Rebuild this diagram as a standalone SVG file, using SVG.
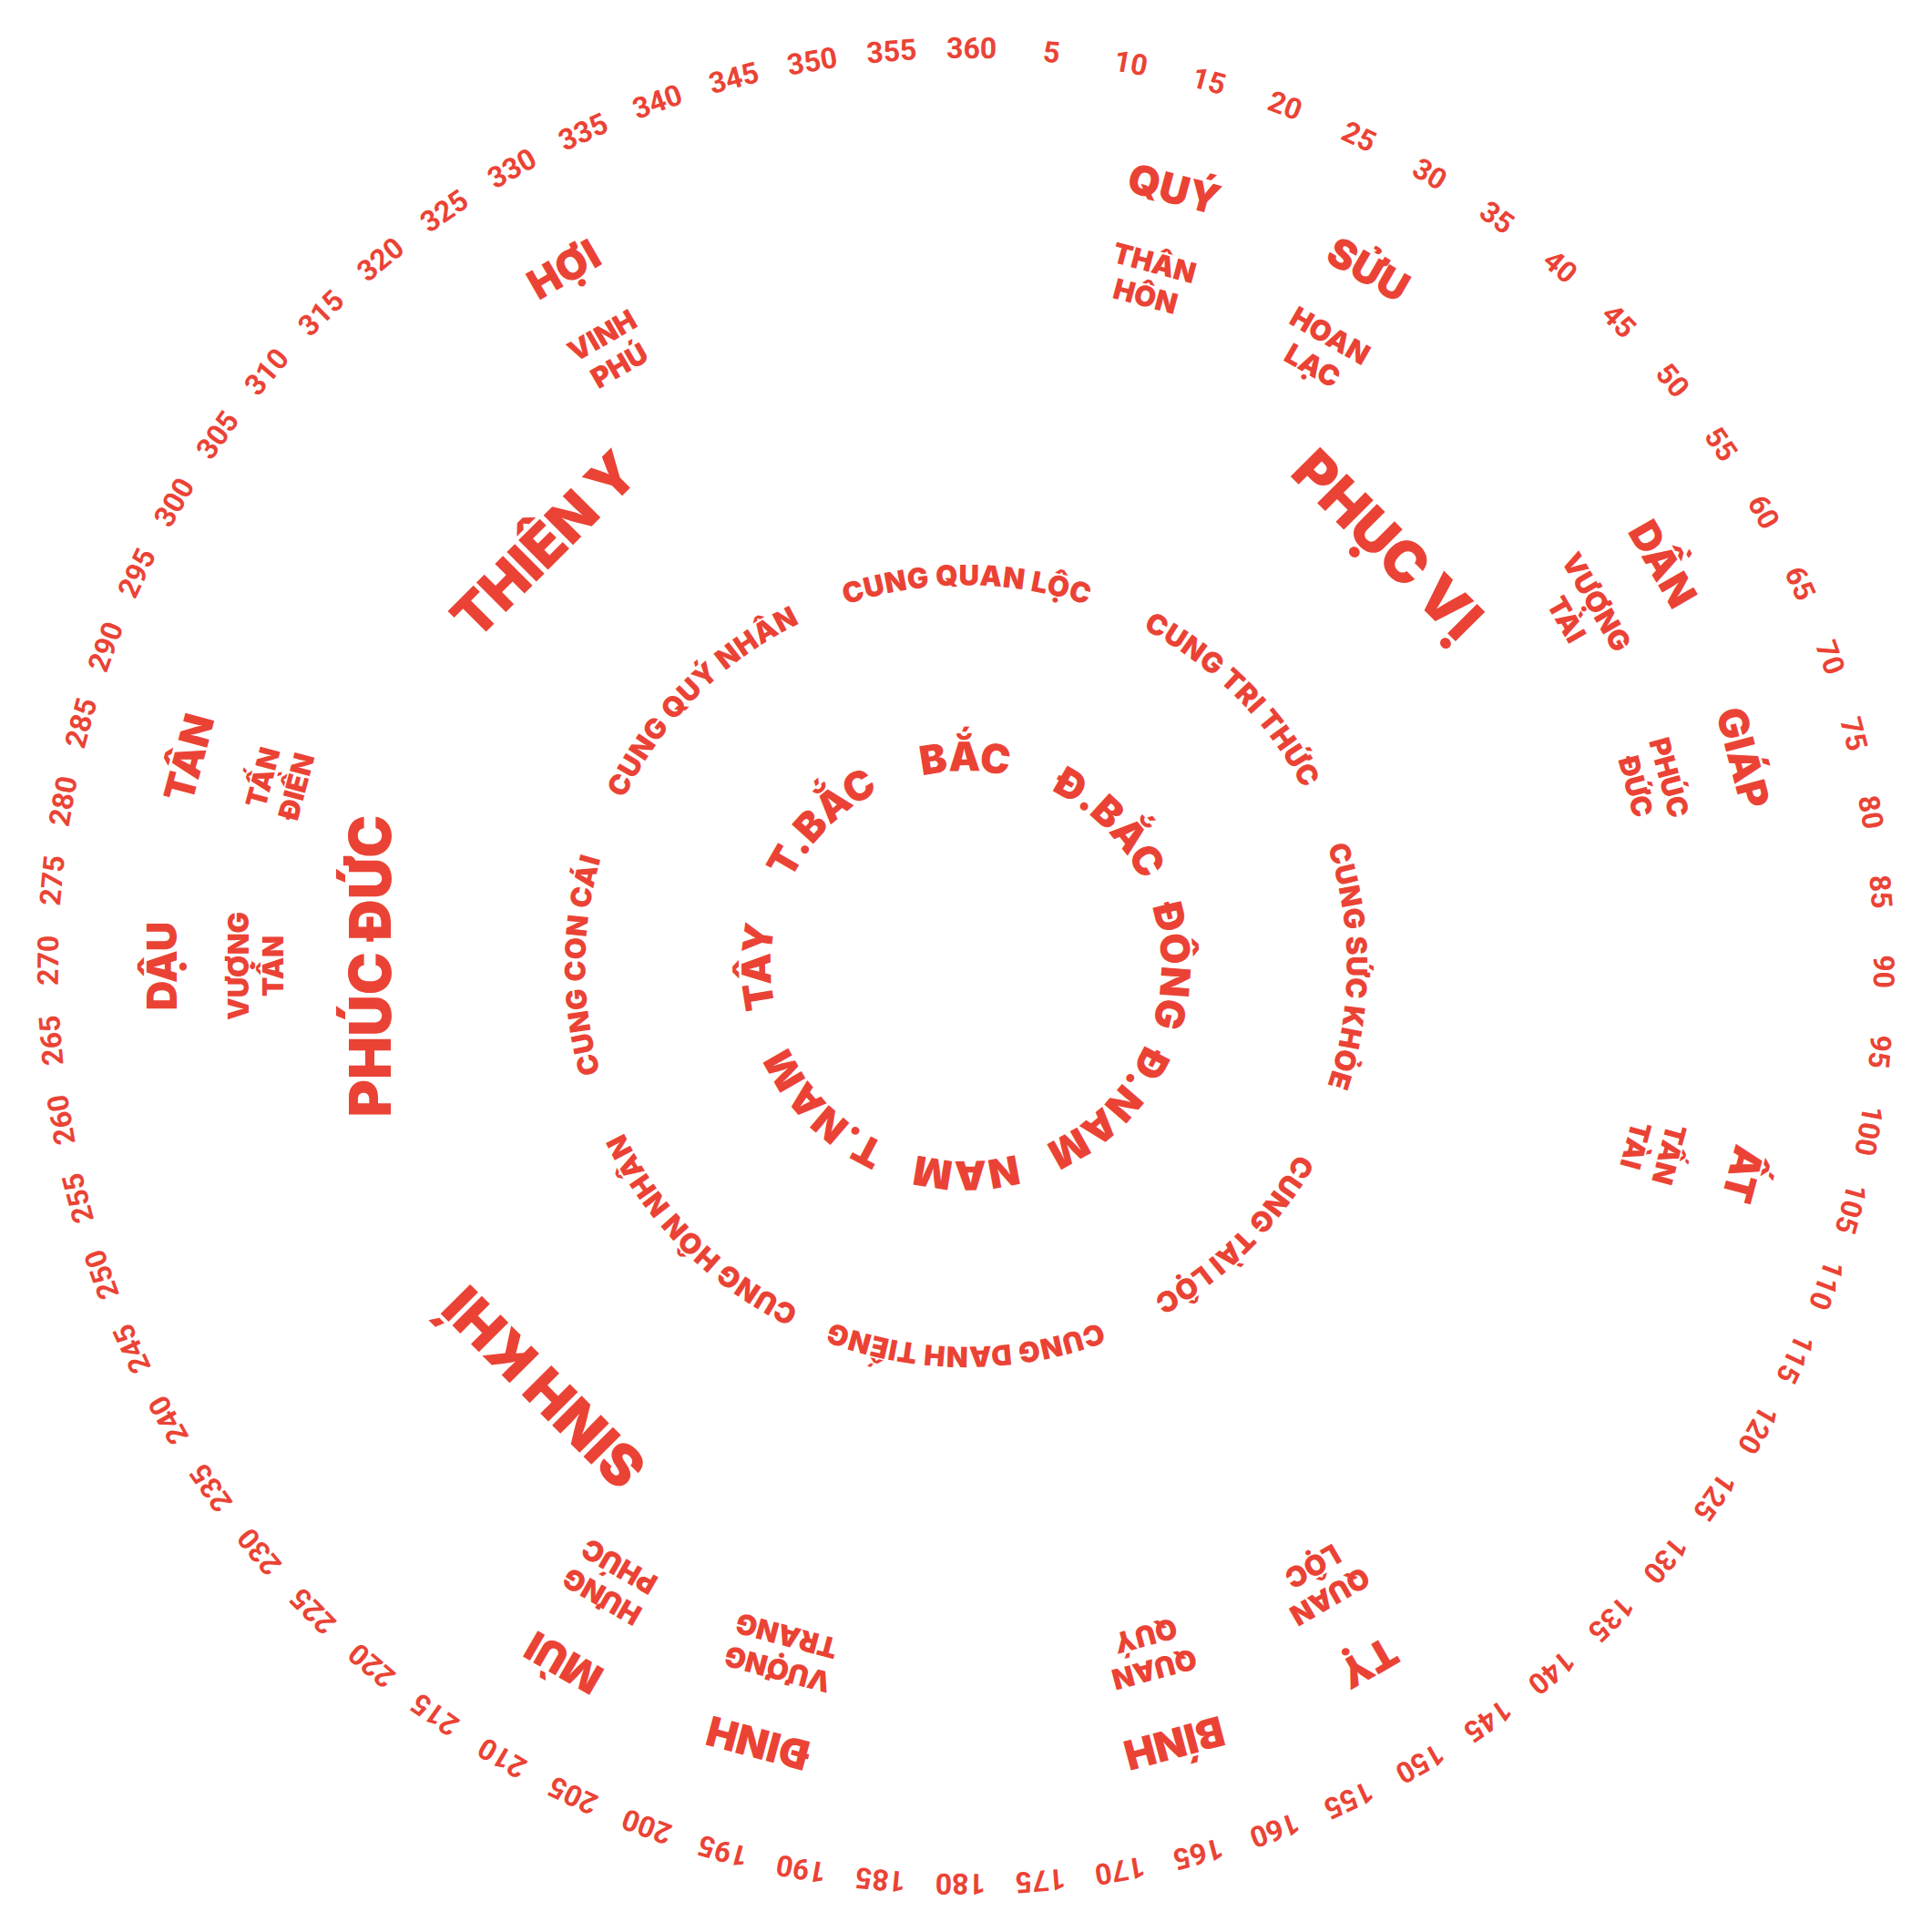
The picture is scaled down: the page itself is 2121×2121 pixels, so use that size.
<svg xmlns="http://www.w3.org/2000/svg" xmlns:xlink="http://www.w3.org/1999/xlink" width="2121" height="2121" viewBox="0 0 2121 2121">
<style>
text{fill:#EA4335;text-anchor:middle}
.deg{font-family:Roboto,"Liberation Sans",sans-serif;font-weight:700;font-size:32px}
.lab{font-family:Inter,"Noto Sans",sans-serif;font-weight:900}
.mtn{font-size:45px}
.sub{font-size:31px}
.big{font-size:63px}
.pal{font-size:31px;letter-spacing:0.5px}
.dir{font-size:44px}
</style>
<defs>
<path id="ringInner" d="M81.894,-197.710 A214,214 0 1 1 -81.894,197.710 A214,214 0 1 1 81.894,-197.710"/>
<path id="ringPalace" d="M159.962,-386.182 A418,418 0 1 1 -159.962,386.182 A418,418 0 1 1 159.962,-386.182"/>
</defs>
<rect width="2121" height="2121" fill="#ffffff"/>
<g transform="translate(1060.5 1060.5)">
<g id="degrees" class="deg">
<text transform="rotate(5.35)" y="-996.5">5</text>
<text transform="rotate(10.35)" y="-996.5">10</text>
<text transform="rotate(15.35)" y="-996.5">15</text>
<text transform="rotate(20.35)" y="-996.5">20</text>
<text transform="rotate(25.35)" y="-996.5">25</text>
<text transform="rotate(30.35)" y="-996.5">30</text>
<text transform="rotate(35.35)" y="-996.5">35</text>
<text transform="rotate(40.35)" y="-996.5">40</text>
<text transform="rotate(45.35)" y="-996.5">45</text>
<text transform="rotate(50.35)" y="-996.5">50</text>
<text transform="rotate(55.35)" y="-996.5">55</text>
<text transform="rotate(60.35)" y="-996.5">60</text>
<text transform="rotate(65.35)" y="-996.5">65</text>
<text transform="rotate(70.35)" y="-996.5">70</text>
<text transform="rotate(75.35)" y="-996.5">75</text>
<text transform="rotate(80.35)" y="-996.5">80</text>
<text transform="rotate(85.35)" y="-996.5">85</text>
<text transform="rotate(90.35)" y="-996.5">90</text>
<text transform="rotate(95.35)" y="-996.5">95</text>
<text transform="rotate(100.35)" y="-996.5">100</text>
<text transform="rotate(105.35)" y="-996.5">105</text>
<text transform="rotate(110.35)" y="-996.5">110</text>
<text transform="rotate(115.35)" y="-996.5">115</text>
<text transform="rotate(120.35)" y="-996.5">120</text>
<text transform="rotate(125.35)" y="-996.5">125</text>
<text transform="rotate(130.35)" y="-996.5">130</text>
<text transform="rotate(135.35)" y="-996.5">135</text>
<text transform="rotate(140.35)" y="-996.5">140</text>
<text transform="rotate(145.35)" y="-996.5">145</text>
<text transform="rotate(150.35)" y="-996.5">150</text>
<text transform="rotate(155.35)" y="-996.5">155</text>
<text transform="rotate(160.35)" y="-996.5">160</text>
<text transform="rotate(165.35)" y="-996.5">165</text>
<text transform="rotate(170.35)" y="-996.5">170</text>
<text transform="rotate(175.35)" y="-996.5">175</text>
<text transform="rotate(180.35)" y="-996.5">180</text>
<text transform="rotate(185.35)" y="-996.5">185</text>
<text transform="rotate(190.35)" y="-996.5">190</text>
<text transform="rotate(195.35)" y="-996.5">195</text>
<text transform="rotate(200.35)" y="-996.5">200</text>
<text transform="rotate(205.35)" y="-996.5">205</text>
<text transform="rotate(210.35)" y="-996.5">210</text>
<text transform="rotate(215.35)" y="-996.5">215</text>
<text transform="rotate(220.35)" y="-996.5">220</text>
<text transform="rotate(225.35)" y="-996.5">225</text>
<text transform="rotate(230.35)" y="-996.5">230</text>
<text transform="rotate(235.35)" y="-996.5">235</text>
<text transform="rotate(240.35)" y="-996.5">240</text>
<text transform="rotate(245.35)" y="-996.5">245</text>
<text transform="rotate(250.35)" y="-996.5">250</text>
<text transform="rotate(255.35)" y="-996.5">255</text>
<text transform="rotate(260.35)" y="-996.5">260</text>
<text transform="rotate(265.35)" y="-996.5">265</text>
<text transform="rotate(270.35)" y="-996.5">270</text>
<text transform="rotate(275.35)" y="-996.5">275</text>
<text transform="rotate(280.35)" y="-996.5">280</text>
<text transform="rotate(285.35)" y="-996.5">285</text>
<text transform="rotate(290.35)" y="-996.5">290</text>
<text transform="rotate(295.35)" y="-996.5">295</text>
<text transform="rotate(300.35)" y="-996.5">300</text>
<text transform="rotate(305.35)" y="-996.5">305</text>
<text transform="rotate(310.35)" y="-996.5">310</text>
<text transform="rotate(315.35)" y="-996.5">315</text>
<text transform="rotate(320.35)" y="-996.5">320</text>
<text transform="rotate(325.35)" y="-996.5">325</text>
<text transform="rotate(330.35)" y="-996.5">330</text>
<text transform="rotate(335.35)" y="-996.5">335</text>
<text transform="rotate(340.35)" y="-996.5">340</text>
<text transform="rotate(345.35)" y="-996.5">345</text>
<text transform="rotate(350.35)" y="-996.5">350</text>
<text transform="rotate(355.35)" y="-996.5">355</text>
<text transform="rotate(0.35)" y="-996.5">360</text>
</g>
<g id="mountains" class="lab mtn">
<text transform="rotate(15)" y="-867">QUÝ</text>
<text transform="rotate(30)" y="-867">SỬU</text>
<text transform="rotate(60)" y="-867">DẦN</text>
<text transform="rotate(75)" y="-867">GIÁP</text>
<text transform="rotate(105)" y="-867">ẤT</text>
<text transform="rotate(150)" y="-867">TỴ</text>
<text transform="rotate(165)" y="-867">BÍNH</text>
<text transform="rotate(195)" y="-867">ĐINH</text>
<text transform="rotate(210)" y="-867">MÙI</text>
<text transform="rotate(270)" y="-867">DẬU</text>
<text transform="rotate(285)" y="-867">TÂN</text>
<text transform="rotate(330)" y="-867">HỢI</text>
</g>
<g id="sublabels" class="lab sub">
<text transform="rotate(15)"><tspan x="0" y="-788">THÂN</tspan><tspan x="0" y="-750">HÔN</tspan></text>
<text transform="rotate(30)"><tspan x="0" y="-788">HOAN</tspan><tspan x="0" y="-750">LẠC</tspan></text>
<text transform="rotate(60)"><tspan x="0" y="-788">VƯỢNG</tspan><tspan x="0" y="-750">TÀI</tspan></text>
<text transform="rotate(75)"><tspan x="0" y="-788">PHÚC</tspan><tspan x="0" y="-750">ĐỨC</tspan></text>
<text transform="rotate(105)"><tspan x="0" y="-788">TẤN</tspan><tspan x="0" y="-750">TÀI</tspan></text>
<text transform="rotate(150)"><tspan x="0" y="-788">QUAN</tspan><tspan x="0" y="-750">LỘC</tspan></text>
<text transform="rotate(165)"><tspan x="0" y="-788">QUAN</tspan><tspan x="0" y="-750">QUÝ</tspan></text>
<text transform="rotate(195)"><tspan x="0" y="-788">VƯỢNG</tspan><tspan x="0" y="-750">TRANG</tspan></text>
<text transform="rotate(210)"><tspan x="0" y="-788">HƯNG</tspan><tspan x="0" y="-750">PHÚC</tspan></text>
<text transform="rotate(270)"><tspan x="0" y="-788">VƯỢNG</tspan><tspan x="0" y="-750">TẤN</tspan></text>
<text transform="rotate(285)"><tspan x="0" y="-788">TẤN</tspan><tspan x="0" y="-750">ĐIỀN</tspan></text>
<text transform="rotate(330)"><tspan x="0" y="-788">VINH</tspan><tspan x="0" y="-750">PHÚ</tspan></text>
</g>
<g id="stars" class="lab big">
<text transform="rotate(45)" y="-632">PHỤC VỊ</text>
<text transform="rotate(225)" y="-632">SINH KHÍ</text>
<text transform="rotate(270)" y="-632">PHÚC ĐỨC</text>
<text transform="rotate(315)" y="-632">THIÊN Y</text>
</g>
<g id="palaces" class="lab pal">
<text><textPath href="#ringPalace" xlink:href="#ringPalace" startOffset="2462.22">CUNG QUAN LỘC</textPath></text>
<text><textPath href="#ringPalace" xlink:href="#ringPalace" startOffset="164.15">CUNG TRI THỨC</textPath></text>
<text><textPath href="#ringPalace" xlink:href="#ringPalace" startOffset="492.44">CUNG SỨC KHỎE</textPath></text>
<text><textPath href="#ringPalace" xlink:href="#ringPalace" startOffset="820.74">CUNG TÀI LỘC</textPath></text>
<text><textPath href="#ringPalace" xlink:href="#ringPalace" startOffset="1149.04">CUNG DANH TIẾNG</textPath></text>
<text><textPath href="#ringPalace" xlink:href="#ringPalace" startOffset="1477.33">CUNG HÔN NHÂN</textPath></text>
<text><textPath href="#ringPalace" xlink:href="#ringPalace" startOffset="1805.63">CUNG CON CÁI</textPath></text>
<text><textPath href="#ringPalace" xlink:href="#ringPalace" startOffset="2133.93">CUNG QUÝ NHÂN</textPath></text>
</g>
<g id="directions" class="lab dir">
<text><textPath href="#ringInner" xlink:href="#ringInner" startOffset="1260.56">BẮC</textPath></text>
<text><textPath href="#ringInner" xlink:href="#ringInner" startOffset="84.04">Đ.BẮC</textPath></text>
<text><textPath href="#ringInner" xlink:href="#ringInner" startOffset="252.11">ĐÔNG</textPath></text>
<text><textPath href="#ringInner" xlink:href="#ringInner" startOffset="420.19">Đ.NAM</textPath></text>
<text><textPath href="#ringInner" xlink:href="#ringInner" startOffset="588.26">NAM</textPath></text>
<text><textPath href="#ringInner" xlink:href="#ringInner" startOffset="756.34">T.NAM</textPath></text>
<text><textPath href="#ringInner" xlink:href="#ringInner" startOffset="924.41">TÂY</textPath></text>
<text><textPath href="#ringInner" xlink:href="#ringInner" startOffset="1092.49">T.BẮC</textPath></text>
</g>
</g>
</svg>
